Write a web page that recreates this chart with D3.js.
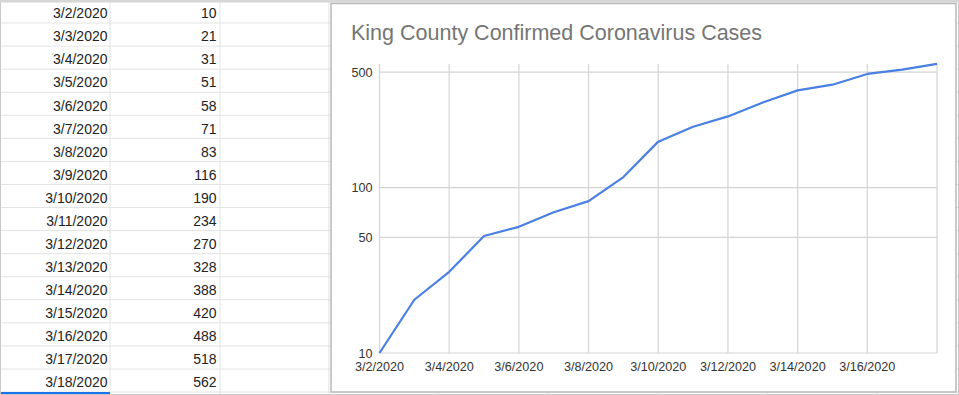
<!DOCTYPE html>
<html>
<head>
<meta charset="utf-8">
<script src="https://cdn.jsdelivr.net/npm/d3@7"></script>
<style>
  html, body { margin: 0; padding: 0; background: #fff; }
  svg { display: block; }
  text { font-family: "Liberation Sans", Arial, sans-serif; }
</style>
</head>
<body>
<svg id="chart" width="959" height="395"></svg>
<script>
// ---- data ----
const dates = ["3/2/2020","3/3/2020","3/4/2020","3/5/2020","3/6/2020","3/7/2020","3/8/2020","3/9/2020",
  "3/10/2020","3/11/2020","3/12/2020","3/13/2020","3/14/2020","3/15/2020","3/16/2020","3/17/2020","3/18/2020"];
const cases = [10,21,31,51,58,71,83,116,190,234,270,328,388,420,488,518,562];
const xTickLabels = ["3/2/2020","3/4/2020","3/6/2020","3/8/2020","3/10/2020","3/12/2020","3/14/2020","3/16/2020"];
const xGridDates = ["3/2/2020","3/4/2020","3/6/2020","3/8/2020","3/10/2020","3/12/2020","3/14/2020","3/16/2020","3/18/2020"];
const yTicks = [10, 50, 100, 500];
const title = "King County Confirmed Coronavirus Cases";

const svg = d3.select("#chart");
const W = 959, H = 395;
const parse = d3.timeParse("%m/%d/%Y");

// ---- spreadsheet background ----
const rowH = 23.06;
const colW = 109.6;
const sheet = svg.append("g");
sheet.append("rect").attr("width", W).attr("height", H).attr("fill", "#fff");
// horizontal row lines
for (let i = 1; i <= 17; i++) {
  sheet.append("line").attr("x1", 0).attr("x2", W)
    .attr("y1", i * rowH).attr("y2", i * rowH)
    .attr("stroke", "#e2e3e3").attr("stroke-width", 1);
}
// vertical column lines
for (let c = 1; c <= 8; c++) {
  const x = c === 1 ? 110 : (c === 2 ? 220 : c * colW);
  sheet.append("line").attr("x1", x).attr("x2", x).attr("y1", 0).attr("y2", H)
    .attr("stroke", "#e2e3e3").attr("stroke-width", 1);
}
// cell text
dates.forEach((d, i) => {
  const y = i * rowH + 18.3;
  sheet.append("text").attr("x", 107.5).attr("y", y).attr("text-anchor", "end")
    .attr("font-size", 14).attr("fill", "#222").text(d);
  sheet.append("text").attr("x", 216.5).attr("y", y).attr("text-anchor", "end")
    .attr("font-size", 14).attr("fill", "#222").text(cases[i]);
});
// selection indicator under last row
sheet.append("rect").attr("x", 0).attr("y", 392).attr("width", 110).attr("height", 3)
  .attr("fill", "#1a73e8");
// outer frame
sheet.append("rect").attr("x", 0.5).attr("y", 0.5).attr("width", W - 1).attr("height", H - 1)
  .attr("fill", "none").attr("stroke", "#c8c8c8").attr("stroke-width", 1);
sheet.append("rect").attr("x", 0).attr("y", 0).attr("width", W).attr("height", 2.5)
  .attr("fill", "#d6d6d6");

// ---- chart panel ----
const panel = svg.append("g");
panel.append("rect").attr("x", 331).attr("y", 3.5).attr("width", 625).attr("height", 388.5)
  .attr("fill", "#fff").attr("stroke", "#b9b9b9").attr("stroke-width", 1.5);

panel.append("text").attr("x", 351).attr("y", 39.5)
  .attr("font-size", 21.5).attr("fill", "#757575").text(title);

const x = d3.scaleTime()
  .domain([parse(dates[0]), parse(dates[dates.length - 1])])
  .range([379.5, 937]);
const y = d3.scaleLog()
  .domain([10, d3.max(cases)])
  .range([353, 63.8]);

// vertical gridlines
panel.append("g").selectAll("line").data(xGridDates).join("line")
  .attr("x1", d => x(parse(d))).attr("x2", d => x(parse(d)))
  .attr("y1", y.range()[1]).attr("y2", y.range()[0])
  .attr("stroke", "#d4d4d4").attr("stroke-width", 1.2);
// horizontal gridlines
panel.append("g").selectAll("line").data(yTicks).join("line")
  .attr("x1", x.range()[0]).attr("x2", x.range()[1])
  .attr("y1", d => y(d)).attr("y2", d => y(d))
  .attr("stroke", "#d4d4d4").attr("stroke-width", 1.2);

// y labels
panel.append("g").selectAll("text").data(yTicks).join("text")
  .attr("x", x.range()[0] - 7).attr("y", d => y(d) + 4.5)
  .attr("text-anchor", "end").attr("font-size", 12.6).attr("fill", "#333")
  .text(d => d);
// x labels
panel.append("g").selectAll("text").data(xTickLabels).join("text")
  .attr("x", d => x(parse(d))).attr("y", 371)
  .attr("text-anchor", "middle").attr("font-size", 12.6).attr("fill", "#333")
  .text(d => d);

// line
const line = d3.line()
  .x((d, i) => x(parse(dates[i])))
  .y(d => y(d));
panel.append("path").datum(cases)
  .attr("d", line)
  .attr("fill", "none").attr("stroke", "#4a80e3").attr("stroke-width", 2.2)
  .attr("stroke-linejoin", "round");
</script>
</body>
</html>
